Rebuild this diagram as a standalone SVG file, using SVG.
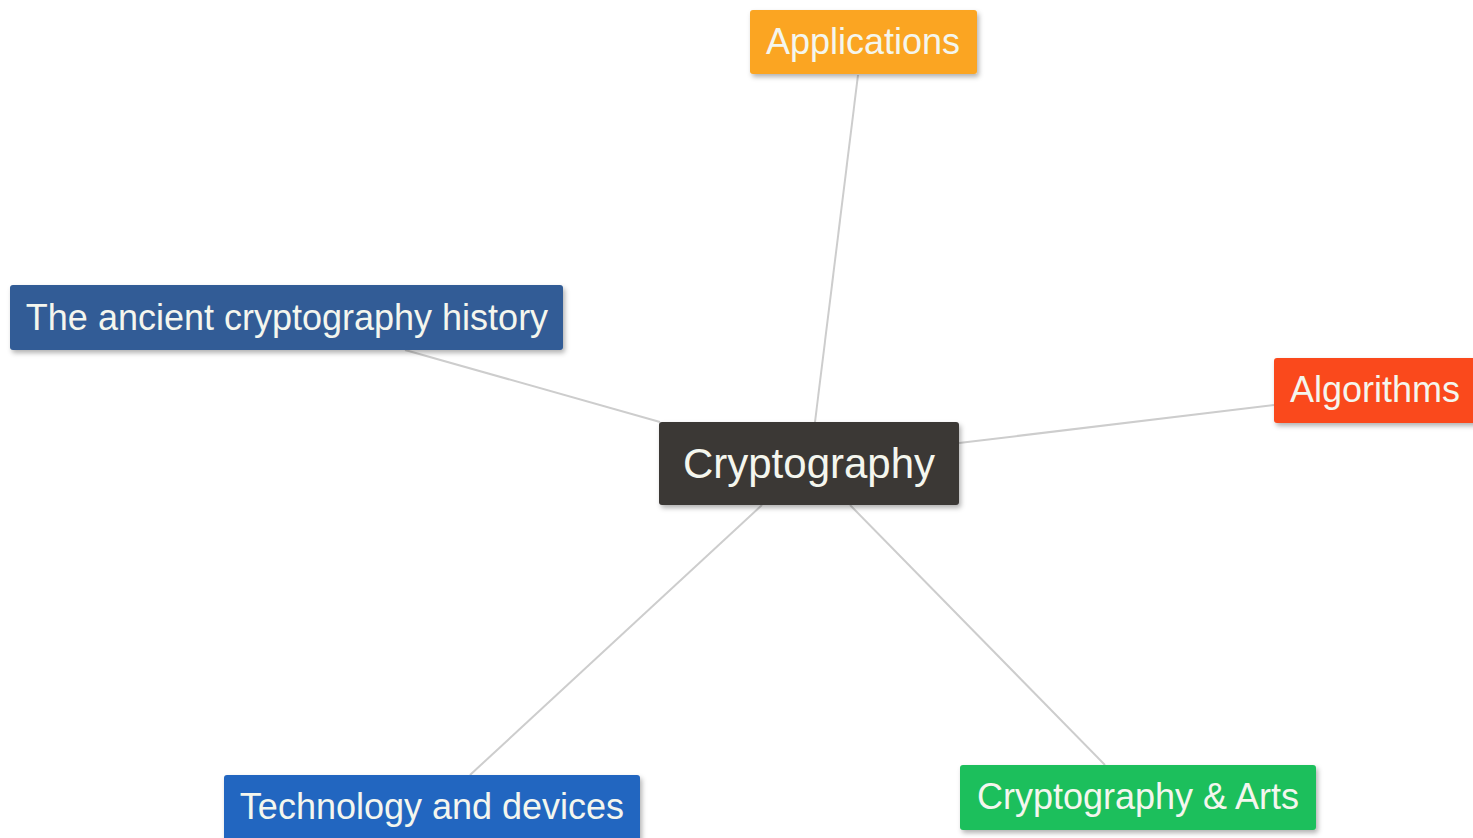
<svg xmlns="http://www.w3.org/2000/svg" width="1473" height="838" viewBox="0 0 1473 838">
<defs>
<filter id="sh" x="-10%" y="-20%" width="120%" height="150%">
<feDropShadow dx="2" dy="3" stdDeviation="2.5" flood-color="#000" flood-opacity="0.3"/>
</filter>
<style>
.edge{stroke:#cdcdcd;stroke-width:2;fill:none}
.box{filter:url(#sh)}
.lbl{font-family:"Liberation Sans",Arial,sans-serif;fill:#f4f6ee;text-anchor:middle;dominant-baseline:central;font-size:36px}
</style>
</defs>
<rect width="1473" height="838" fill="#ffffff"/>
<g id="connectors">
<line class="edge" x1="858" y1="75" x2="815" y2="422"/>
<line class="edge" x1="405" y1="350" x2="660" y2="422"/>
<line class="edge" x1="1274" y1="405" x2="959" y2="443"/>
<line class="edge" x1="470" y1="775" x2="762" y2="505"/>
<line class="edge" x1="1105" y1="765" x2="850" y2="505"/>
</g>
<g id="node-applications">
<rect class="box" x="750" y="10" width="227" height="64" rx="3" fill="#fba523"/>
<text class="lbl" x="863" y="41">Applications</text>
</g>
<g id="node-ancient">
<rect class="box" x="10" y="285" width="553" height="65" rx="3" fill="#305c96"/>
<text class="lbl" x="287" y="317">The ancient cryptography history</text>
</g>
<g id="node-cryptography">
<rect class="box" x="659" y="422" width="300" height="83" rx="3" fill="#3a3735"/>
<text class="lbl" x="809" y="463" style="font-size:42px">Cryptography</text>
</g>
<g id="node-algorithms">
<rect class="box" x="1274" y="358" width="205" height="65" rx="3" fill="#fa4a1e"/>
<text class="lbl" x="1375" y="389">Algorithms</text>
</g>
<g id="node-technology">
<rect class="box" x="224" y="775" width="416" height="75" rx="3" fill="#2466c0"/>
<text class="lbl" x="432" y="806">Technology and devices</text>
</g>
<g id="node-arts">
<rect class="box" x="960" y="765" width="356" height="65" rx="3" fill="#1dbf5b"/>
<text class="lbl" x="1138" y="796">Cryptography &amp; Arts</text>
</g>
</svg>
